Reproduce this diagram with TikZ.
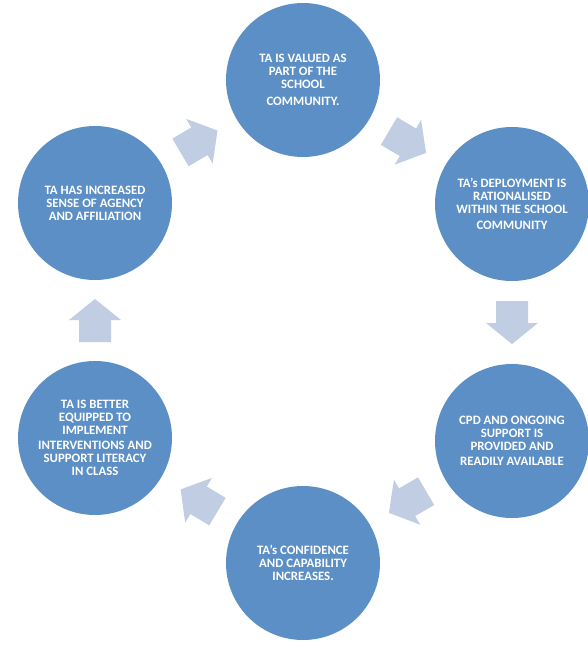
\documentclass[tikz,border=0pt]{standalone}
\usepackage{fontspec}
\setmainfont{Carlito}
\usetikzlibrary{calc}
\definecolor{circblue}{RGB}{91,143,197}
\definecolor{arrowblue}{RGB}{192,205,227}
\begin{document}
\begin{tikzpicture}[x=0.75pt,y=-0.75pt,
  circ/.style={circle,fill=circblue,draw=none,minimum size=115.5pt,inner sep=0pt,
    text=white,align=center,font=\bfseries\fontsize{9.6}{9.7}\selectfont},
  blockarrow/.pic={\fill[arrowblue] (-21.5,-16) -- (0.5,-16) -- (0.5,-26) -- (21.5,0)
    -- (0.5,26) -- (0.5,16) -- (-21.5,16) -- cycle;}]
\fill[white] (0,0) rectangle (587,654);
\useasboundingbox (0,0) rectangle (587,654);
\node[circ] (c1) at (303,80) {TA IS VALUED AS\\PART OF THE\\SCHOOL\\[3pt]COMMUNITY.};
\node[circ] (c2) at (512,204) {TA's DEPLOYMENT IS\\RATIONALISED\\WITHIN THE SCHOOL\\[2pt]COMMUNITY};
\node[circ] (c3) at (512,441) {CPD AND ONGOING\\SUPPORT IS\\PROVIDED AND\\[2pt]READILY AVAILABLE};
\node[circ] (c4) at (303,563) {TA's CONFIDENCE\\AND CAPABILITY\\INCREASES.};
\node[circ] (c5) at (95,438) {TA IS BETTER\\EQUIPPED TO\\IMPLEMENT\\[2pt]INTERVENTIONS AND\\SUPPORT LITERACY\\IN CLASS};
\node[circ] (c6) at (95,203) {TA HAS INCREASED\\SENSE OF AGENCY\\AND AFFILIATION};
\pic[rotate=30.6] at ($(c6)!0.5!(c1)$) {blockarrow};
\pic[rotate=-30.5] at ($(c1)!0.5!(c2)$) {blockarrow};
\pic[rotate=-90] at ($(c2)!0.5!(c3)$) {blockarrow};
\pic[rotate=-149.7] at ($(c3)!0.5!(c4)$) {blockarrow};
\pic[rotate=149] at ($(c4)!0.5!(c5)$) {blockarrow};
\pic[rotate=90] at ($(c5)!0.5!(c6)$) {blockarrow};
\end{tikzpicture}
\end{document}
